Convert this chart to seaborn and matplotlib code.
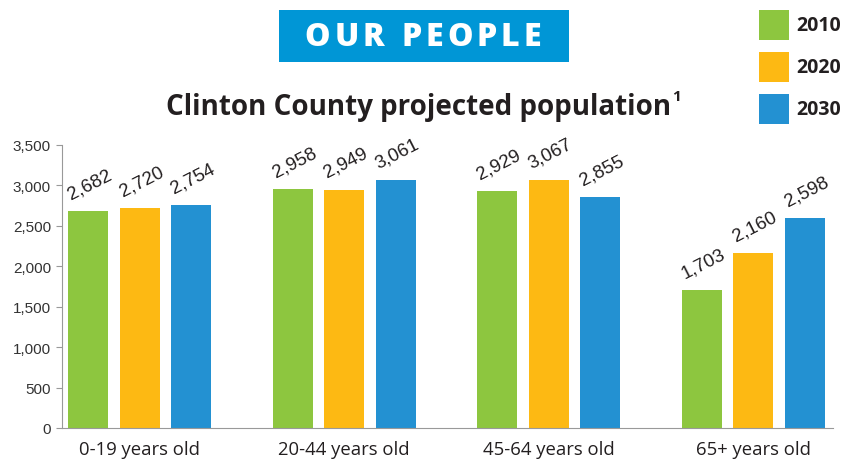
import matplotlib
matplotlib.use("Agg")
import matplotlib.pyplot as plt
import seaborn as sns
import pandas as pd
from matplotlib.patches import Rectangle

categories = ["0-19 years old", "20-44 years old", "45-64 years old", "65+ years old"]
years = ["2010", "2020", "2030"]
pop_2010 = [2682, 2958, 2929, 1703]
pop_2020 = [2720, 2949, 3067, 2160]
pop_2030 = [2754, 3061, 2855, 2598]
y_ticks = [0, 500, 1000, 1500, 2000, 2500, 3000, 3500]
colors = ["#8DC63F", "#FDB913", "#2391D2"]
header_text = "OUR PEOPLE"
title_text = "Clinton County projected population"
title_note = "1"

rows = []
for yr, vals in zip(years, [pop_2010, pop_2020, pop_2030]):
    for c, v in zip(categories, vals):
        rows.append({"Age": c, "Year": yr, "Population": v})
df = pd.DataFrame(rows)

sns.set_theme(style="white")
plt.rcParams["font.family"] = ["Liberation Sans", "DejaVu Sans"]

fig = plt.figure(figsize=(8.43, 4.6), dpi=100)
ax = fig.add_axes([62 / 843, 1 - 429 / 460, (833 - 62) / 843, (429 - 146) / 460])

sns.barplot(data=df, x="Age", y="Population", hue="Year", palette=colors,
            order=categories, hue_order=years, width=0.754, gap=0.22,
            saturation=1, legend=False, ax=ax, edgecolor="none")

for cont in ax.containers:
    for bar in cont:
        h = bar.get_height()
        x = bar.get_x() + bar.get_width() / 2
        ax.annotate(f"{int(h):,}", (x, h), xytext=(4, 14), textcoords="offset points",
                    ha="center", va="bottom", rotation=27, rotation_mode="anchor",
                    fontsize=13.5, color="#231F20")

ax.set_xlim(-0.38, 3.39)
ax.set_ylim(0, 3500)
ax.set_yticks(y_ticks)
ax.set_yticklabels([f"{t:,}" for t in y_ticks], fontsize=11, color="#333333")
ax.set_xlabel("")
ax.set_ylabel("")
ax.tick_params(axis="x", length=0, pad=9)
for lbl in ax.get_xticklabels():
    lbl.set_fontfamily(["Open Sans", "DejaVu Sans"])
    lbl.set_fontsize(13.3)
    lbl.set_color("#231F20")
ax.tick_params(axis="y", length=4, width=0.8, color="#999999", left=True, pad=4)
for s in ["top", "right"]:
    ax.spines[s].set_visible(False)
ax.spines["left"].set_color("#999999")
ax.spines["bottom"].set_color("#999999")
ax.spines["left"].set_linewidth(0.8)
ax.spines["bottom"].set_linewidth(0.8)

renderer = fig.canvas.get_renderer()

# Header box
fig.patches.append(Rectangle((279 / 843, 1 - 63 / 460), 290 / 843, 52 / 460,
                             transform=fig.transFigure, facecolor="#0096D6",
                             edgecolor="none"))
# letter-spaced header text
hdr_kw = dict(color="white", fontsize=23, fontweight="heavy",
              family=["Open Sans", "DejaVu Sans"], va="center", ha="left")
spacing = 4.0  # px between letters
widths = []
for ch in header_text:
    t = fig.text(0, 0, ch if ch != " " else "-", **hdr_kw)
    bb = t.get_window_extent(renderer)
    widths.append(bb.width if ch != " " else bb.width * 0.9)
    t.remove()
total = sum(widths) + spacing * (len(header_text) - 1)
xpos = 423 - total / 2
for ch, w in zip(header_text, widths):
    if ch != " ":
        fig.text(xpos / 843, 1 - 38 / 460, ch, **hdr_kw)
    xpos += w + spacing

# Title with small superscript note
ttl = fig.text(166 / 843, 1 - 107 / 460, title_text,
               ha="left", va="center", color="#231F20", fontsize=20, fontweight="bold",
               family=["Open Sans", "DejaVu Sans"])
tb = ttl.get_window_extent(renderer)
fig.text((tb.x1 + 1) / 843, 1 - 97 / 460, title_note, ha="left", va="center",
         color="#231F20", fontsize=11, fontweight="bold",
         family=["Open Sans", "DejaVu Sans"])

# Legend
for i, (yr, col) in enumerate(zip(years, colors)):
    top = 11 + i * 42
    fig.patches.append(Rectangle((759 / 843, 1 - (top + 30) / 460), 30 / 843, 30 / 460,
                                 transform=fig.transFigure, facecolor=col, edgecolor="none"))
    fig.text(796 / 843, 1 - (top + 15) / 460, yr, ha="left", va="center",
             fontsize=14, fontweight="bold", color="#231F20",
             family=["Open Sans", "DejaVu Sans"])

fig.savefig("out.png", dpi=100)
